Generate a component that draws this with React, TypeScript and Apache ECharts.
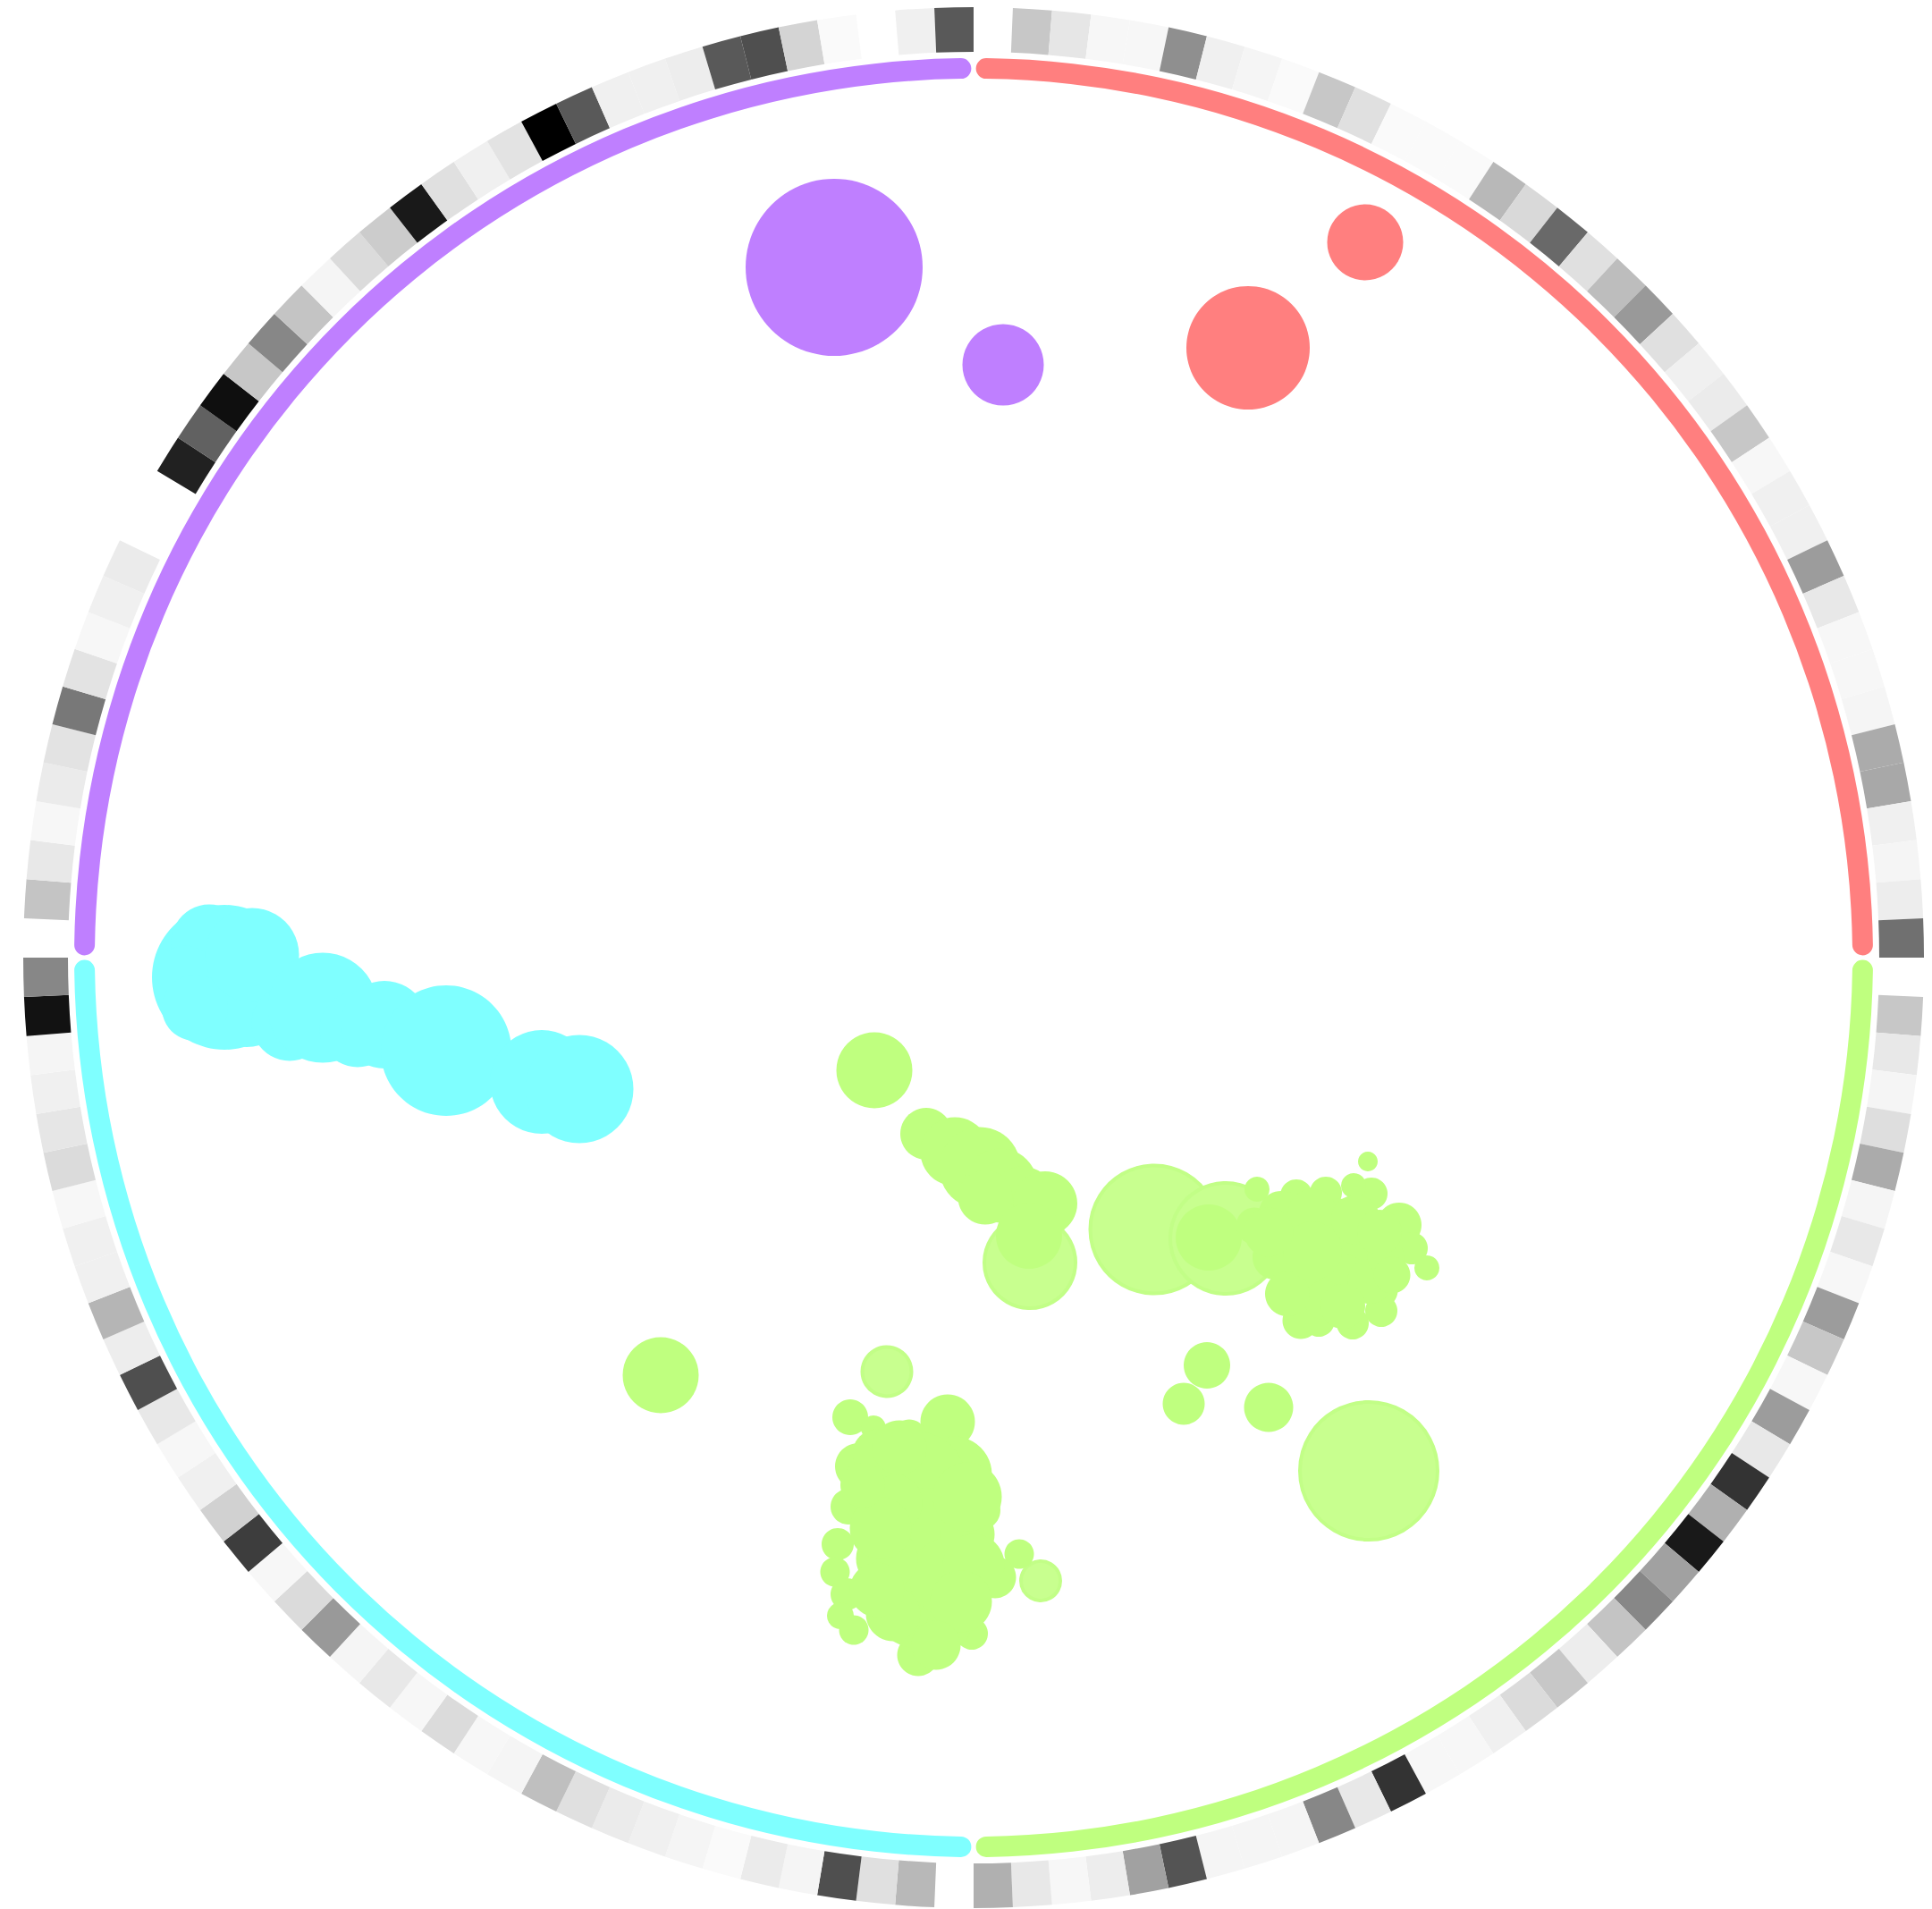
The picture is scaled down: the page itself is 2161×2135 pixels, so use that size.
import React, { useEffect, useRef } from "react";
import * as echarts from "echarts";

// ---------------- data ----------------
const groupNames = ["Group 1", "Group 2", "Group 3", "Group 4"];

// outer ring heat values (0 = white, 1 = black), null = no value; clockwise from 12 o'clock
const ringGroup1 = [null, 0.22, 0.10, 0.03, 0.03, 0.44, 0.06, 0.04, 0.02, 0.22, 0.12, 0.02, 0.02, 0.02, 0.28, 0.15, 0.59, 0.12, 0.26, 0.40, 0.12, 0.06, 0.08, 0.22, 0.03, 0.06, 0.06, 0.39, 0.09, 0.03, 0.03, 0.04, 0.33, 0.34, 0.06, 0.04, 0.07, 0.56];
const ringGroup2 = [null, 0.22, 0.09, 0.04, 0.13, 0.33, 0.04, 0.09, 0.03, 0.39, 0.22, 0.03, 0.39, 0.09, 0.80, 0.31, 0.90, 0.37, 0.47, 0.23, 0.07, 0.22, 0.14, 0.06, 0.03, 0.03, 0.80, 0.09, 0.47, 0.04, 0.04, 0.04, 0.67, 0.37, 0.07, 0.03, 0.09, 0.31];
const ringGroup3 = [null, 0.28, 0.12, 0.69, 0.04, 0.08, 0.02, 0.04, 0.06, 0.08, 0.12, 0.25, 0.04, 0.03, 0.14, 0.03, 0.09, 0.04, 0.40, 0.14, 0.03, 0.76, 0.18, 0.06, 0.03, 0.09, 0.69, 0.07, 0.29, 0.06, 0.06, 0.03, 0.14, 0.10, 0.06, 0.04, 0.93, 0.47];
const ringGroup4 = [null, 0.23, 0.09, 0.03, 0.08, 0.11, 0.53, 0.11, 0.03, 0.06, 0.08, null, null, 0.87, 0.62, 0.94, 0.22, 0.47, 0.23, 0.04, 0.14, 0.20, 0.90, 0.12, 0.06, 0.11, 1.00, 0.65, 0.06, 0.06, 0.07, 0.65, 0.69, 0.17, 0.02, null, 0.06, 0.65];

// scatter points: [x, y, diameter] in embedding units
const group4Points = [
  [-1.56, 7.72, 1.98],
  [0.33, 6.63, 0.91],
];
const group1Points = [
  [4.38, 8.0, 0.85],
  [3.07, 6.82, 1.38],
];
const group3Points = [
  [-8.13, -0.45, 1.1],
  [-8.38, -0.22, 1.62],
  [-8.55, 0.17, 0.85],
  [-8.82, -0.18, 0.63],
  [-8.71, -0.56, 0.74],
  [-8.07, 0.03, 1.05],
  [-7.65, -0.73, 0.85],
  [-7.28, -0.56, 1.23],
  [-6.89, -0.8, 0.85],
  [-6.59, -0.75, 0.98],
  [-5.9, -1.04, 1.46],
  [-4.83, -1.39, 1.16],
  [-4.41, -1.47, 1.21],
];
const group2PointsLow = [
  [4.42, -5.74, 1.54],
  [2.02, -3.04, 1.43],
  [2.82, -3.14, 1.24],
  [0.63, -3.41, 1.02],
  [-0.97, -4.63, 0.55],
  [0.75, -6.97, 0.44],
];
const group2Points = [
  [-1.11, -1.26, 0.85],
  [-3.5, -4.67, 0.85],
  [2.61, -4.56, 0.52],
  [2.35, -4.99, 0.47],
  [3.3, -5.03, 0.55],
  // diagonal chain
  [-0.53, -1.97, 0.58],
  [-0.21, -2.17, 0.77],
  [0.07, -2.35, 0.91],
  [0.3, -2.55, 0.83],
  [0.55, -2.68, 0.69],
  [0.13, -2.68, 0.61],
  [0.8, -2.75, 0.72],
  [0.62, -3.11, 0.74],
  [2.63, -3.13, 0.74],
  // right cluster
  [4.41, -2.28, 0.22],
  [4.45, -2.64, 0.36],
  [4.25, -2.55, 0.28],
  [3.17, -2.59, 0.28],
  [3.61, -2.66, 0.36],
  [3.94, -2.63, 0.36],
  [4.08, -2.93, 0.47],
  [4.76, -2.99, 0.5],
  [4.9, -3.25, 0.36],
  [5.07, -3.47, 0.28],
  [4.54, -3.72, 0.41],
  [3.66, -4.06, 0.41],
  [3.86, -4.06, 0.36],
  [4.24, -4.09, 0.36],
  [4.56, -3.95, 0.36],
  [3.58, -3.07, 0.61],
  [3.99, -3.21, 0.66],
  [4.34, -3.28, 0.61],
  [3.72, -3.55, 0.61],
  [4.13, -3.62, 0.61],
  [4.43, -3.62, 0.5],
  [3.37, -3.35, 0.5],
  [4.61, -3.35, 0.41],
  [3.92, -3.83, 0.44],
  [3.51, -3.76, 0.5],
  [3.14, -3.0, 0.41],
  [3.44, -2.86, 0.5],
  [3.79, -2.86, 0.55],
  [4.27, -2.93, 0.55],
  [4.54, -3.07, 0.5],
  [4.13, -3.9, 0.5],
  [4.68, -3.55, 0.41],
  [3.79, -3.28, 0.66],
  [3.3, -3.07, 0.55],
  // bottom cluster
  [-1.38, -5.14, 0.4],
  [-1.12, -5.26, 0.28],
  [-0.29, -5.19, 0.61],
  [-1.29, -5.69, 0.52],
  [-0.72, -5.36, 0.39],
  [-0.22, -5.78, 0.85],
  [-1.4, -6.14, 0.4],
  [0.08, -6.18, 0.44],
  [-1.52, -6.56, 0.36],
  [-1.19, -6.49, 0.33],
  [-1.55, -6.87, 0.33],
  [0.51, -6.67, 0.33],
  [0.24, -6.93, 0.47],
  [-1.42, -7.12, 0.36],
  [-1.49, -7.36, 0.3],
  [-1.34, -7.52, 0.33],
  [-0.62, -7.8, 0.47],
  [-0.02, -7.56, 0.36],
  [-0.62, -5.83, 1.05],
  [-0.53, -6.51, 1.16],
  [-0.62, -7.2, 1.05],
  [-0.28, -6.93, 0.88],
  [-0.97, -6.72, 0.69],
  [-0.9, -6.1, 0.66],
  [-0.9, -7.34, 0.61],
  [-0.28, -7.48, 0.5],
  [-0.07, -6.45, 0.61],
  [-1.08, -5.55, 0.55],
  [-0.07, -6.03, 0.77],
  [0.0, -6.79, 0.69],
  [-0.14, -7.2, 0.69],
  [-1.04, -6.38, 0.69],
  [-1.08, -7.07, 0.61],
  [-0.42, -7.69, 0.55],
  [-0.83, -5.48, 0.61],
  [-1.24, -5.9, 0.5],
];

// ---------------- layout / style ----------------
const W = 2161;
const H = 2135;
const CX = 1089;
const CY = 1071;
const AX_MIN = -10;
const AX_MAX = 10;
const PLOT = 2000;
const PX_PER_UNIT = PLOT / (AX_MAX - AX_MIN);

const GROUP_COLORS = ["#FF7F7F", "#BFFF7F", "#7FFFFF", "#BF7FFF"];
const LOW_GREEN = "#C8FF8F";

function grayOf(v: number | null): string {
  if (v === null || v === undefined) return "rgba(255,255,255,0)";
  const g = Math.round(255 * (1 - v));
  return `rgb(${g},${g},${g})`;
}

export default function App() {
  const ref = useRef<HTMLDivElement>(null);

  useEffect(() => {
    if (!ref.current) return;
    const chart = echarts.init(ref.current, null, { renderer: "svg" });

    const rings = [ringGroup1, ringGroup2, ringGroup3, ringGroup4];
    const ringData: any[] = [];
    rings.forEach((arr, gi) => {
      arr.forEach((v, i) => {
        ringData.push({
          name: `${groupNames[gi]}-${i + 1}`,
          value: 1,
          itemStyle: { color: grayOf(v as number | null) },
        });
      });
    });

    const arcData = rings.map((arr, gi) => ({
      name: groupNames[gi],
      value: arr.length,
      itemStyle: { color: GROUP_COLORS[gi] },
    }));

    const sizeFn = (v: number[]) => v[2] * PX_PER_UNIT;

    const scatterBase = {
      type: "scatter",
      xAxisIndex: 0,
      yAxisIndex: 0,
      symbol: "circle",
      symbolSize: sizeFn,
      silent: true,
    };

    chart.setOption({
      animation: false,
      backgroundColor: "#ffffff",
      grid: {
        left: CX - PLOT / 2,
        top: CY - PLOT / 2,
        width: PLOT,
        height: PLOT,
        show: false,
      },
      xAxis: { type: "value", min: AX_MIN, max: AX_MAX, show: false },
      yAxis: { type: "value", min: AX_MIN, max: AX_MAX, show: false },
      series: [
        {
          type: "pie",
          name: "ring",
          center: [CX, CY],
          radius: [1013, 1063],
          startAngle: 90,
          clockwise: true,
          silent: true,
          label: { show: false },
          labelLine: { show: false },
          itemStyle: { borderWidth: 0 },
          emphasis: { disabled: true },
          data: ringData,
        },
        {
          type: "pie",
          name: "groups",
          center: [CX, CY],
          radius: [983, 1006],
          startAngle: 90,
          clockwise: true,
          padAngle: 0.3,
          silent: true,
          label: { show: false },
          labelLine: { show: false },
          itemStyle: { borderRadius: 11.5, borderWidth: 0 },
          emphasis: { disabled: true },
          data: arcData,
        },
        {
          ...scatterBase,
          name: groupNames[3],
          data: group4Points,
          itemStyle: { color: GROUP_COLORS[3], opacity: 1 },
        },
        {
          ...scatterBase,
          name: groupNames[0],
          data: group1Points,
          itemStyle: { color: GROUP_COLORS[0], opacity: 1 },
        },
        {
          ...scatterBase,
          name: groupNames[2],
          data: group3Points,
          itemStyle: { color: GROUP_COLORS[2], opacity: 1 },
        },
        {
          ...scatterBase,
          name: groupNames[1] + " (low)",
          data: group2PointsLow,
          itemStyle: {
            color: LOW_GREEN,
            opacity: 1,
            borderColor: "#C2FE87",
            borderWidth: 4,
          },
        },
        {
          ...scatterBase,
          name: groupNames[1],
          data: group2Points,
          itemStyle: { color: GROUP_COLORS[1], opacity: 1 },
        },
      ],
    });

    return () => {
      chart.dispose();
    };
  }, []);

  return (
    <div
      ref={ref}
      style={{
        position: "fixed",
        left: 0,
        top: 0,
        width: W,
        height: H,
        background: "#ffffff",
      }}
    />
  );
}
